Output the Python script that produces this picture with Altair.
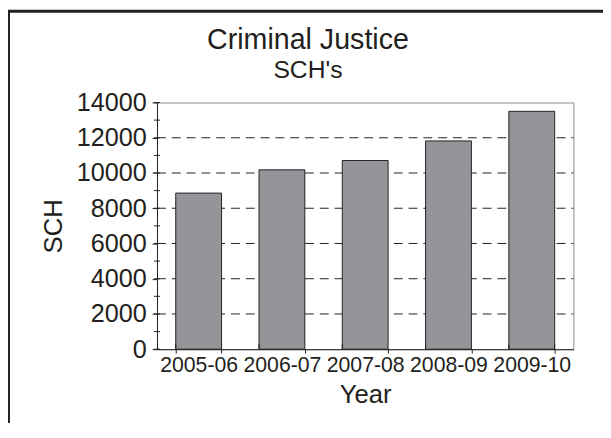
import altair as alt
import pandas as pd

# ---- data ----
YEARS = ["2005-06", "2006-07", "2007-08", "2008-09", "2009-10"]
SCH = [8860, 10180, 10710, 11820, 13500]
Y_LABEL_VALUES = [0, 2000, 4000, 6000, 8000, 10000, 12000, 14000]
GRID_VALUES = [2000, 4000, 6000, 8000, 10000, 12000]
TICK_VALUES = [0, 1000, 2000, 3000, 4000, 5000, 6000, 7000, 8000,
               9000, 10000, 11000, 12000, 13000, 14000]

TITLE = "Criminal Justice"
SUBTITLE = "SCH's"
X_TITLE = "Year"
Y_TITLE = "SCH"

# ---- style ----
W, H = 422, 250
INK = "#231f20"
BAR = "#939598"
FRAME_GRAY = "#8a8a8a"
FONT = "Liberation Sans"

bars_df = pd.DataFrame({"Year": YEARS, "SCH": SCH})
grid_df = pd.DataFrame({"SCH": GRID_VALUES})
ticks_df = pd.DataFrame({"SCH": TICK_VALUES})
last_df = pd.DataFrame({"Year": [YEARS[-1]]})
frame_df = pd.DataFrame({"f": [0]})

x_scale = alt.Scale(paddingInner=0.45, paddingOuter=0.225)
y_scale = alt.Scale(domain=[0, 14000], nice=False)

x_axis = alt.Axis(title=X_TITLE, labelAngle=0, tickBand="extent", tickSize=4,
                  labelPadding=2, titlePadding=6, labelFontSize=21.5,
                  titleFontSize=26, labelOverlap=False)
y_axis = alt.Axis(title=Y_TITLE, values=Y_LABEL_VALUES, format="d", tickSize=5,
                  labelPadding=6, grid=False, labelFontSize=25.5,
                  titleFontSize=26, titlePadding=10, labelOverlap=False,
                  labelBound=False)


def x_enc(band_pos=None):
    if band_pos is None:
        return alt.X("Year:N", sort=YEARS, scale=x_scale, axis=x_axis)
    return alt.X("Year:N", sort=YEARS, scale=x_scale, axis=x_axis,
                 bandPosition=band_pos)


y_enc = alt.Y("SCH:Q", scale=y_scale, axis=y_axis)

grid = alt.Chart(grid_df).mark_rule(
    stroke=INK, strokeWidth=1, strokeDash=[9, 6]
).encode(y=y_enc, x=alt.value(0), x2=alt.value(W))

bars = alt.Chart(bars_df).mark_bar(
    fill=BAR, stroke=INK, strokeWidth=1
).encode(x=x_enc(), y=y_enc)

y_ticks = alt.Chart(ticks_df).mark_rule(stroke=INK, strokeWidth=1).encode(
    y=y_enc, x=alt.value(-3), x2=alt.value(3)
)

x_ticks_in = alt.Chart(bars_df).mark_rule(stroke=INK, strokeWidth=1).encode(
    x=x_enc(0), y=alt.value(H - 5), y2=alt.value(H),
)
x_tick_end = alt.Chart(last_df).mark_rule(stroke=INK, strokeWidth=1).encode(
    x=x_enc(1), y=alt.value(H - 5), y2=alt.value(H),
)

frame = alt.Chart(frame_df).mark_rect(
    fillOpacity=0, stroke=INK, strokeWidth=3
).encode(
    x=alt.value(-150.5), x2=alt.value(W + 300),
    y=alt.value(-92.5), y2=alt.value(H + 300),
)

chart = alt.layer(grid, bars, y_ticks, x_ticks_in, x_tick_end, frame).properties(
    width=W, height=H,
    title=alt.TitleParams(
        TITLE, subtitle=SUBTITLE, fontSize=29, subtitleFontSize=25,
        font=FONT, subtitleFont=FONT, color=INK, subtitleColor=INK,
        fontWeight="normal", anchor="middle", dx=-58, offset=-74,
        subtitlePadding=3,
    ),
    autosize=alt.AutoSizeParams(type="none"),
    padding={"left": 151, "top": 93, "right": 30, "bottom": 72},
    background="white",
).configure_view(
    stroke=FRAME_GRAY, strokeWidth=1
).configure_axis(
    domainColor=INK, tickColor=INK, labelColor=INK, titleColor=INK,
    labelFont=FONT, titleFont=FONT, titleFontWeight="normal",
    domainWidth=1, tickWidth=1, labelOverlap=False,
)

chart.save("out.html", embed_options={"renderer": "svg", "actions": False})
